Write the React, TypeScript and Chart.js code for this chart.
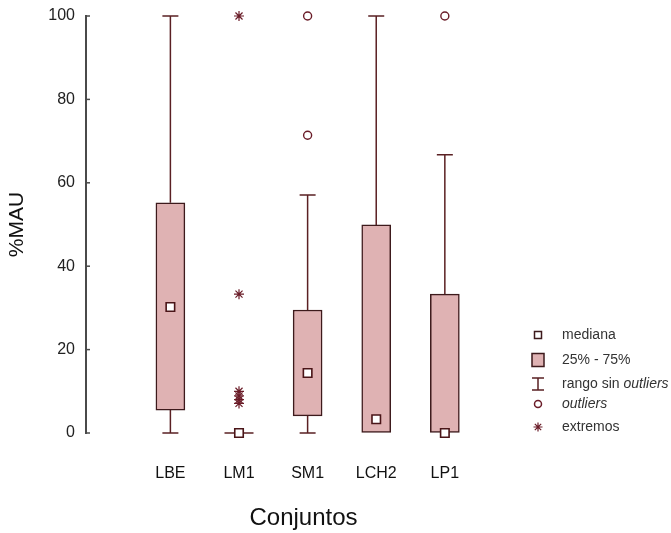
import React, { useEffect, useRef } from "react";
import { Chart, registerables } from "chart.js";

Chart.register(...registerables);

const categories = ["LBE", "LM1", "SM1", "LCH2", "LP1"];
const q1 = [5.5, 0, 4.1, 0, 0];
const q3 = [55.2, 0, 29.5, 49.9, 33.3];
const medians = [30.2, 0, 14.4, 3.3, 0];
const whiskerLow = [0, 0, 0, 0, 0];
const whiskerHigh = [100, 0, 57.1, 100, 66.7];
const outlierCat = [2, 2, 4];
const outlierVal = [100, 71.4, 100];
const extremeCat = [1, 1, 1, 1, 1, 1];
const extremeVal = [100, 33.3, 10, 8.9, 8, 7.1];
const yTicks = [0, 20, 40, 60, 80, 100];
const legendLabels = ["mediana", "25% - 75%", "rango sin ", "outliers", "extremos"];

const FONT = "'Liberation Sans', Arial, sans-serif";
const BOX_FILL = "#dfb2b3";
const BOX_LINE = "#3d1a1c";
const WHISKER = "#5a2023";
const MARK = "#6a1c28";

const boxPlugin = {
  id: "boxExtras",
  beforeDatasetsDraw(chart: any) {
    const { ctx, scales } = chart;
    const xs = scales.x;
    const ys = scales.y;
    const meta = chart.getDatasetMeta(0);
    ctx.save();
    ctx.strokeStyle = WHISKER;
    ctx.lineWidth = 1.5;
    const cap = 16;
    categories.forEach((_, i) => {
      const x = xs.getPixelForValue(i);
      const lo = whiskerLow[i];
      const hi = whiskerHigh[i];
      if (lo < q1[i]) {
        const yl = ys.getPixelForValue(lo);
        ctx.beginPath();
        ctx.moveTo(x, ys.getPixelForValue(q1[i]));
        ctx.lineTo(x, yl);
        ctx.moveTo(x - cap / 2, yl);
        ctx.lineTo(x + cap / 2, yl);
        ctx.stroke();
      }
      if (hi > q3[i]) {
        const yh = ys.getPixelForValue(hi);
        ctx.beginPath();
        ctx.moveTo(x, ys.getPixelForValue(q3[i]));
        ctx.lineTo(x, yh);
        ctx.moveTo(x - cap / 2, yh);
        ctx.lineTo(x + cap / 2, yh);
        ctx.stroke();
      }
      if (q1[i] === q3[i]) {
        const el = meta.data[i];
        const w = el && el.width ? el.width : 29;
        const yb = ys.getPixelForValue(q1[i]);
        ctx.beginPath();
        ctx.moveTo(x - w / 2, yb);
        ctx.lineTo(x + w / 2, yb);
        ctx.stroke();
      }
    });
    // inner tick marks on the y axis
    ctx.strokeStyle = "#4a4a4a";
    ctx.lineWidth = 1.5;
    yTicks.forEach((v) => {
      const y = ys.getPixelForValue(v);
      ctx.beginPath();
      ctx.moveTo(xs.left, y);
      ctx.lineTo(xs.left + 4, y);
      ctx.stroke();
    });
    ctx.restore();
  },
  afterDraw(chart: any) {
    const { ctx } = chart;
    ctx.save();
    const ix = 538;
    const tx = 562;
    const rows = [335, 360, 384, 404, 427];
    ctx.textBaseline = "middle";
    ctx.textAlign = "left";
    // 1 mediana
    ctx.strokeStyle = BOX_LINE;
    ctx.lineWidth = 1.5;
    ctx.fillStyle = "#fff";
    ctx.fillRect(ix - 3.5, rows[0] - 3.5, 7, 7);
    ctx.strokeRect(ix - 3.5, rows[0] - 3.5, 7, 7);
    // 2 box
    ctx.fillStyle = BOX_FILL;
    ctx.fillRect(ix - 6, rows[1] - 6.5, 12, 13);
    ctx.strokeRect(ix - 6, rows[1] - 6.5, 12, 13);
    // 3 whisker
    ctx.strokeStyle = WHISKER;
    ctx.beginPath();
    ctx.moveTo(ix - 6, rows[2] - 6);
    ctx.lineTo(ix + 6, rows[2] - 6);
    ctx.moveTo(ix, rows[2] - 6);
    ctx.lineTo(ix, rows[2] + 6);
    ctx.moveTo(ix - 6, rows[2] + 6);
    ctx.lineTo(ix + 6, rows[2] + 6);
    ctx.stroke();
    // 4 outlier
    ctx.strokeStyle = MARK;
    ctx.fillStyle = "#fff";
    ctx.beginPath();
    ctx.arc(ix, rows[3], 3.5, 0, Math.PI * 2);
    ctx.fill();
    ctx.stroke();
    // 5 star
    ctx.lineWidth = 1.2;
    ctx.beginPath();
    const r = 4.5;
    for (let k = 0; k < 4; k++) {
      const a = (k * Math.PI) / 4;
      ctx.moveTo(ix - r * Math.cos(a), rows[4] - r * Math.sin(a));
      ctx.lineTo(ix + r * Math.cos(a), rows[4] + r * Math.sin(a));
    }
    ctx.stroke();
    // texts
    ctx.fillStyle = "#333";
    const normal = `14px ${FONT}`;
    const italic = `italic 14px ${FONT}`;
    ctx.font = normal;
    ctx.fillText(legendLabels[0], tx, rows[0]);
    ctx.fillText(legendLabels[1], tx, rows[1]);
    ctx.fillText(legendLabels[2], tx, rows[2]);
    const w = ctx.measureText(legendLabels[2]).width;
    ctx.font = italic;
    ctx.fillText(legendLabels[3], tx + w, rows[2]);
    ctx.fillText(legendLabels[3], tx, rows[3]);
    ctx.font = normal;
    ctx.fillText(legendLabels[4], tx, rows[4]);
    ctx.restore();
  },
};

export default function App() {
  const ref = useRef<HTMLCanvasElement | null>(null);
  useEffect(() => {
    document.body.style.margin = "0";
    const canvas = ref.current;
    if (!canvas) return;
    const chart = new Chart(canvas, {
      type: "bar",
      data: {
        datasets: [
          {
            type: "bar",
            data: categories.map((_, i) => ({ x: i, y: [q1[i], q3[i]] })) as any,
            backgroundColor: BOX_FILL,
            borderColor: BOX_LINE,
            borderWidth: 1.5,
            borderSkipped: false,
            barThickness: 29,
            order: 10,
          } as any,
          {
            type: "line",
            data: medians.map((v, i) => ({ x: i, y: v })),
            showLine: false,
            pointStyle: "rect",
            pointRadius: 6,
            pointBackgroundColor: "#fff",
            pointBorderColor: "#4a1518",
            pointBorderWidth: 1.6,
            order: 1,
            clip: false,
          } as any,
          {
            type: "line",
            data: outlierVal.map((v, i) => ({ x: outlierCat[i], y: v })),
            showLine: false,
            pointStyle: "circle",
            pointRadius: 4,
            pointBackgroundColor: "#fff",
            pointBorderColor: MARK,
            pointBorderWidth: 1.4,
            order: 2,
            clip: false,
          } as any,
          {
            type: "line",
            data: extremeVal.map((v, i) => ({ x: extremeCat[i], y: v })),
            showLine: false,
            pointStyle: "star",
            pointRadius: 5,
            pointBackgroundColor: MARK,
            pointBorderColor: MARK,
            pointBorderWidth: 1.2,
            order: 3,
            clip: false,
          } as any,
        ],
      },
      options: {
        responsive: false,
        animation: false,
        layout: { padding: { top: 16, right: 150, bottom: 0, left: 0 } },
        plugins: { legend: { display: false }, tooltip: { enabled: false } },
        scales: {
          x: {
            type: "linear",
            offset: false,
            min: -1.23,
            max: 5.11,
            grid: { display: false, drawTicks: false },
            border: { display: false },
            afterBuildTicks: (s: any) => {
              s.ticks = categories.map((_, i) => ({ value: i }));
            },
            afterFit: (s: any) => {
              s.height = 100;
            },
            ticks: {
              autoSkip: false,
              maxRotation: 0,
              padding: 31,
              color: "#111",
              font: { family: FONT, size: 16 },
              callback: (v: any) => categories[v] ?? "",
            },
            title: {
              display: true,
              text: "Conjuntos",
              color: "#111",
              font: { family: FONT, size: 24 },
              padding: { top: 21, bottom: 0 },
            },
          },
          y: {
            min: 0,
            max: 100,
            grid: { display: true, drawOnChartArea: false, drawTicks: false },
            border: { display: true, color: "#4a4a4a", width: 2 },
            afterBuildTicks: (s: any) => {
              s.ticks = yTicks.map((v) => ({ value: v }));
            },
            afterFit: (s: any) => {
              s.width = 86;
              s.paddingTop = 0;
              s.paddingBottom = 0;
            },
            ticks: {
              padding: 11,
              color: "#222",
              font: { family: FONT, size: 16 },
            },
            title: {
              display: true,
              text: "%MAU",
              color: "#111",
              font: { family: FONT, size: 21 },
              padding: { top: 5, bottom: 0 },
            },
          },
        },
      },
      plugins: [boxPlugin],
    });
    return () => chart.destroy();
  }, []);
  return <canvas ref={ref} width={671} height={533} style={{ display: "block" }} />;
}
